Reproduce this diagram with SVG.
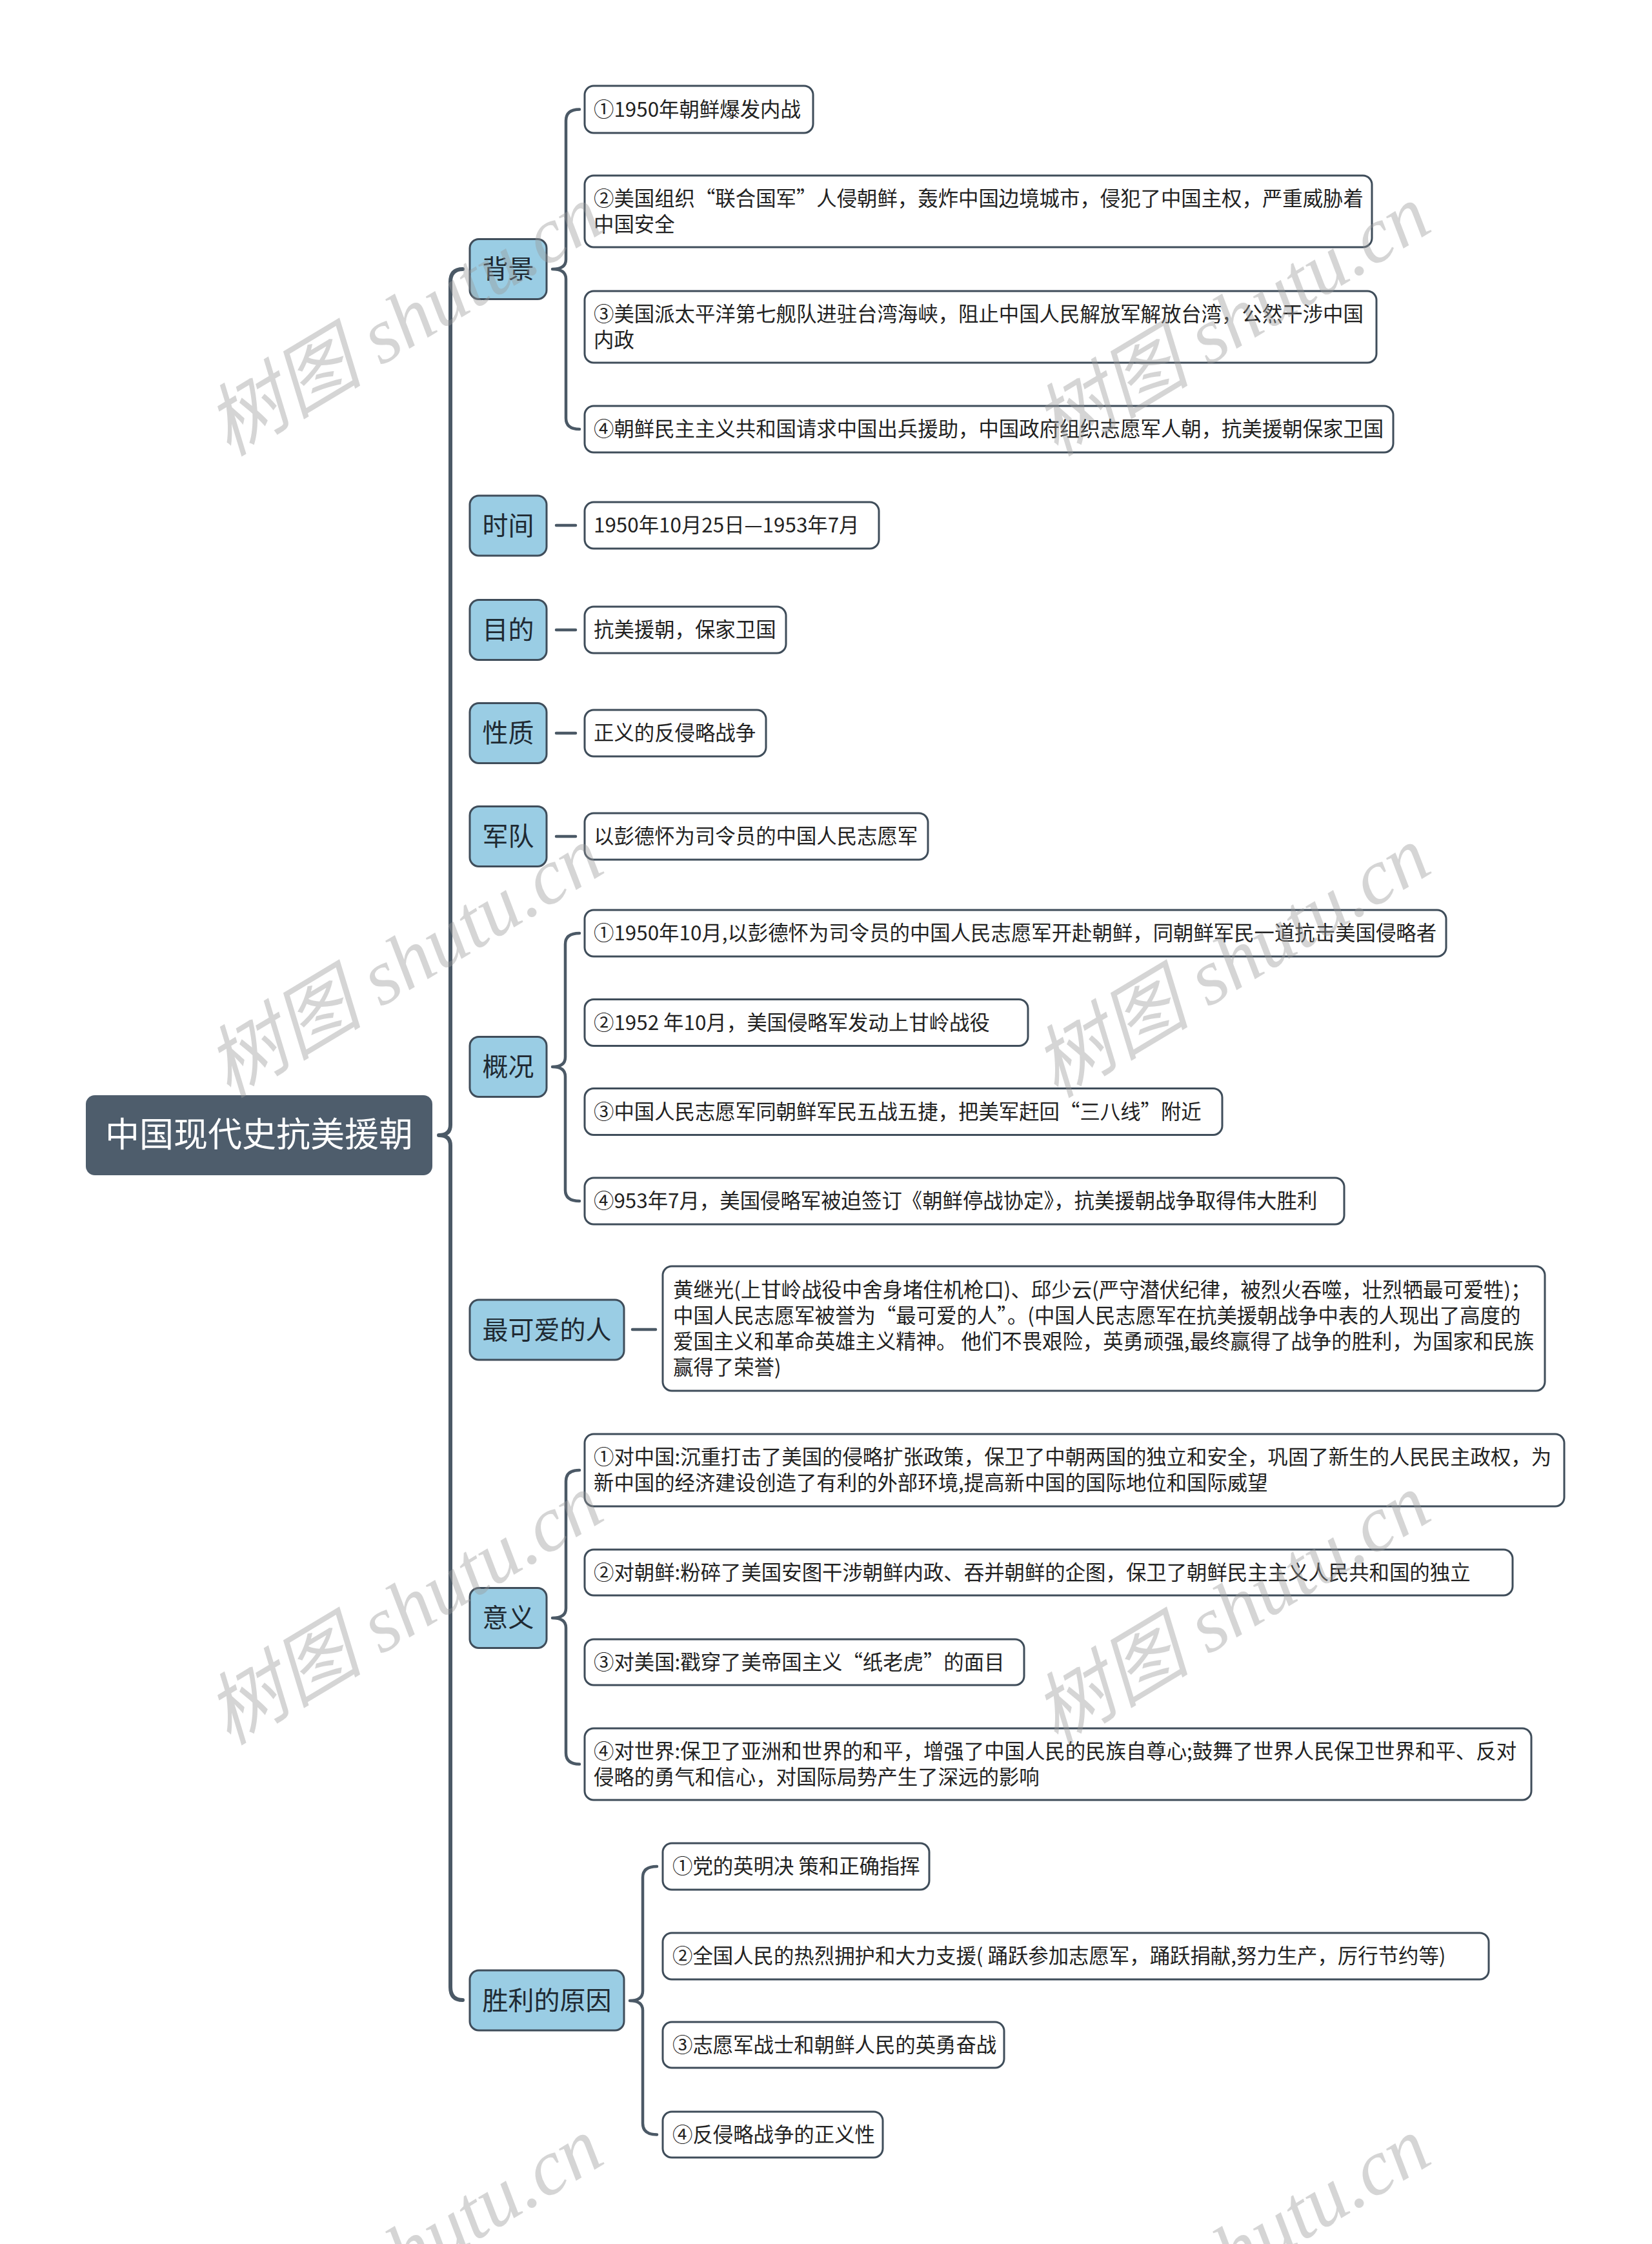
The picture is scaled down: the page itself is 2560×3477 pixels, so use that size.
<svg xmlns="http://www.w3.org/2000/svg" width="2560" height="3477" viewBox="0 0 2560 3477">
<style>
text{font-family:"Noto Sans CJK SC","Noto Sans",sans-serif}
.root{fill:#4E5D6C}
.rt{font-size:53px;fill:#FFFFFF;text-anchor:middle}
.l1{fill:#9ACDE4;stroke:#3F4D5A;stroke-width:3}
.t1{font-size:40px;fill:#1F2A33;text-anchor:middle}
.leaf{fill:#FFFFFF;stroke:#3F4D5A;stroke-width:3}
.t2{font-size:31.4px;fill:#222222}
.conn path{fill:none;stroke:#4B5966;stroke-linecap:round;stroke-linejoin:round}
.wm{font-family:"Liberation Serif","Noto Sans CJK SC",serif;font-style:italic;font-size:122px;fill:#999999;opacity:0.4;text-anchor:middle}
</style>
<rect width="2560" height="3477" fill="#FFFFFF"/>
<g id="connectors" class="conn">
<path stroke-width="6" d="M717 417 Q698 417 698 437 L698 1743 Q698 1759 680 1759 Q698 1759 698 1775 L698 3079 Q698 3099 717 3099"/>
<path stroke-width="4.5" d="M898 169.5 Q877 169.5 877 187 L877 402 Q877 417 856 417 Q877 417 877 432 L877 648 Q877 665 898 665"/>
<path stroke-width="4.5" d="M898 1446 Q876 1446 876 1463 L876 1638 Q876 1653 856 1653 Q876 1653 876 1668 L876 1844 Q876 1861 898 1861"/>
<path stroke-width="4.5" d="M898 2278 Q877 2278 877 2295 L877 2492 Q877 2507 856 2507 Q877 2507 877 2522 L877 2716 Q877 2733.5 898 2733.5"/>
<path stroke-width="4.5" d="M1018 2892 Q996 2892 996 2909 L996 3085 Q996 3100 976 3100 Q996 3100 996 3115 L996 3290 Q996 3307.5 1018 3307.5"/>
<path stroke-width="4.5" d="M862 814 L892 814"/>
<path stroke-width="4.5" d="M862 976 L892 976"/>
<path stroke-width="4.5" d="M862 1136 L892 1136"/>
<path stroke-width="4.5" d="M862 1296 L892 1296"/>
<path stroke-width="4.5" d="M980 2060 L1016 2060"/>
</g>
<g id="root">
<rect class="root" x="133" y="1697" width="537" height="124" rx="14"/>
<text class="rt" x="401.5" y="1777">中国现代史抗美援朝</text>
</g>
<g id="n-beijing">
<rect class="l1" x="728" y="370.5" width="119" height="93" rx="14"/>
<text class="t1" x="787.5" y="431">背景</text>
</g>
<g id="n-beijing-1">
<rect class="leaf" x="906" y="133" width="354" height="73" rx="14"/>
<text class="t2" x="920" y="180.5">①1950年朝鲜爆发内战</text>
</g>
<g id="n-beijing-2">
<rect class="leaf" x="906" y="272" width="1220" height="111" rx="14"/>
<text class="t2" x="920" y="318.5">②美国组织“联合国军”人侵朝鲜，轰炸中国边境城市，侵犯了中国主权，严重威胁着</text>
<text class="t2" x="920" y="358.5">中国安全</text>
</g>
<g id="n-beijing-3">
<rect class="leaf" x="906" y="451" width="1227" height="111" rx="14"/>
<text class="t2" x="920" y="497.5">③美国派太平洋第七舰队进驻台湾海峡，阻止中国人民解放军解放台湾，公然干涉中国</text>
<text class="t2" x="920" y="537.5">内政</text>
</g>
<g id="n-beijing-4">
<rect class="leaf" x="906" y="629" width="1253" height="72" rx="14"/>
<text class="t2" x="920" y="676">④朝鲜民主主义共和国请求中国出兵援助，中国政府组织志愿军人朝，抗美援朝保家卫国</text>
</g>
<g id="n-shijian">
<rect class="l1" x="728" y="768" width="119" height="93" rx="14"/>
<text class="t1" x="787.5" y="828.5">时间</text>
</g>
<g id="n-shijian-1">
<rect class="leaf" x="906" y="778" width="456" height="72" rx="14"/>
<text class="t2" x="920" y="825">1950年10月25日—1953年7月</text>
</g>
<g id="n-mudi">
<rect class="l1" x="728" y="929.5" width="119" height="93" rx="14"/>
<text class="t1" x="787.5" y="990">目的</text>
</g>
<g id="n-mudi-1">
<rect class="leaf" x="906" y="940" width="312" height="72" rx="14"/>
<text class="t2" x="920" y="987">抗美援朝，保家卫国</text>
</g>
<g id="n-xingzhi">
<rect class="l1" x="728" y="1089.5" width="119" height="93" rx="14"/>
<text class="t1" x="787.5" y="1150">性质</text>
</g>
<g id="n-xingzhi-1">
<rect class="leaf" x="906" y="1100" width="281" height="72" rx="14"/>
<text class="t2" x="920" y="1147">正义的反侵略战争</text>
</g>
<g id="n-jundui">
<rect class="l1" x="728" y="1249.5" width="119" height="93" rx="14"/>
<text class="t1" x="787.5" y="1310">军队</text>
</g>
<g id="n-jundui-1">
<rect class="leaf" x="906" y="1260" width="532" height="72" rx="14"/>
<text class="t2" x="920" y="1307">以彭德怀为司令员的中国人民志愿军</text>
</g>
<g id="n-gaikuang">
<rect class="l1" x="728" y="1606.5" width="119" height="93" rx="14"/>
<text class="t1" x="787.5" y="1667">概况</text>
</g>
<g id="n-gaikuang-1">
<rect class="leaf" x="906" y="1410" width="1335" height="72" rx="14"/>
<text class="t2" x="920" y="1457">①1950年10月,以彭德怀为司令员的中国人民志愿军开赴朝鲜，同朝鲜军民一道抗击美国侵略者</text>
</g>
<g id="n-gaikuang-2">
<rect class="leaf" x="906" y="1548.5" width="687" height="72" rx="14"/>
<text class="t2" x="920" y="1595.5">②1952 年10月，美国侵略军发动上甘岭战役</text>
</g>
<g id="n-gaikuang-3">
<rect class="leaf" x="906" y="1686.5" width="988" height="72" rx="14"/>
<text class="t2" x="920" y="1733.5">③中国人民志愿军同朝鲜军民五战五捷，把美军赶回“三八线”附近</text>
</g>
<g id="n-gaikuang-4">
<rect class="leaf" x="906" y="1825" width="1177" height="72" rx="14"/>
<text class="t2" x="920" y="1872">④953年7月，美国侵略军被迫签订《朝鲜停战协定》，抗美援朝战争取得伟大胜利</text>
</g>
<g id="n-keai">
<rect class="l1" x="728" y="2014" width="239" height="93" rx="14"/>
<text class="t1" x="847.5" y="2074.5">最可爱的人</text>
</g>
<g id="n-keai-1">
<rect class="leaf" x="1027" y="1962" width="1367" height="193" rx="14"/>
<text class="t2" x="1043" y="2009.5">黄继光(上甘岭战役中舍身堵住机枪口)、邱少云(严守潜伏纪律，被烈火吞噬，壮烈牺最可爱牲)；</text>
<text class="t2" x="1043" y="2049.5">中国人民志愿军被誉为“最可爱的人”。(中国人民志愿军在抗美援朝战争中表的人现出了高度的</text>
<text class="t2" x="1043" y="2089.5">爱国主义和革命英雄主义精神。 他们不畏艰险，英勇顽强,最终赢得了战争的胜利，为国家和民族</text>
<text class="t2" x="1043" y="2129.5">赢得了荣誉)</text>
</g>
<g id="n-yiyi">
<rect class="l1" x="728" y="2460.5" width="119" height="93" rx="14"/>
<text class="t1" x="787.5" y="2521">意义</text>
</g>
<g id="n-yiyi-1">
<rect class="leaf" x="906" y="2222" width="1518" height="112" rx="14"/>
<text class="t2" x="920" y="2269">①对中国:沉重打击了美国的侵略扩张政策，保卫了中朝两国的独立和安全，巩固了新生的人民民主政权，为</text>
<text class="t2" x="920" y="2309">新中国的经济建设创造了有利的外部环境,提高新中国的国际地位和国际威望</text>
</g>
<g id="n-yiyi-2">
<rect class="leaf" x="906" y="2401" width="1438" height="71" rx="14"/>
<text class="t2" x="920" y="2447.5">②对朝鲜:粉碎了美国安图干涉朝鲜内政、吞并朝鲜的企图，保卫了朝鲜民主主义人民共和国的独立</text>
</g>
<g id="n-yiyi-3">
<rect class="leaf" x="906" y="2540" width="681" height="71" rx="14"/>
<text class="t2" x="920" y="2586.5">③对美国:戳穿了美帝国主义“纸老虎”的面目</text>
</g>
<g id="n-yiyi-4">
<rect class="leaf" x="906" y="2678" width="1467" height="111" rx="14"/>
<text class="t2" x="920" y="2724.5">④对世界:保卫了亚洲和世界的和平，增强了中国人民的民族自尊心;鼓舞了世界人民保卫世界和平、反对</text>
<text class="t2" x="920" y="2764.5">侵略的勇气和信心，对国际局势产生了深远的影响</text>
</g>
<g id="n-shengli">
<rect class="l1" x="728" y="3053" width="239" height="93" rx="14"/>
<text class="t1" x="847.5" y="3113.5">胜利的原因</text>
</g>
<g id="n-shengli-1">
<rect class="leaf" x="1027" y="2856" width="413" height="72" rx="14"/>
<text class="t2" x="1042" y="2903">①党的英明决 策和正确指挥</text>
</g>
<g id="n-shengli-2">
<rect class="leaf" x="1027" y="2995" width="1280" height="72" rx="14"/>
<text class="t2" x="1042" y="3042">②全国人民的热烈拥护和大力支援( 踊跃参加志愿军，踊跃捐献,努力生产，厉行节约等)</text>
</g>
<g id="n-shengli-3">
<rect class="leaf" x="1027" y="3133" width="529" height="71" rx="14"/>
<text class="t2" x="1042" y="3179.5">③志愿军战士和朝鲜人民的英勇奋战</text>
</g>
<g id="n-shengli-4">
<rect class="leaf" x="1027" y="3272" width="341" height="71" rx="14"/>
<text class="t2" x="1042" y="3318.5">④反侵略战争的正义性</text>
</g>
<g id="watermarks">
<text class="wm" transform="translate(648 532) rotate(-31)">树图 shutu.cn</text>
<text class="wm" transform="translate(1930 532) rotate(-31)">树图 shutu.cn</text>
<text class="wm" transform="translate(648 1526) rotate(-31)">树图 shutu.cn</text>
<text class="wm" transform="translate(1930 1526) rotate(-31)">树图 shutu.cn</text>
<text class="wm" transform="translate(648 2529) rotate(-31)">树图 shutu.cn</text>
<text class="wm" transform="translate(1930 2529) rotate(-31)">树图 shutu.cn</text>
<text class="wm" transform="translate(648 3526) rotate(-31)">树图 shutu.cn</text>
<text class="wm" transform="translate(1930 3526) rotate(-31)">树图 shutu.cn</text>
</g>
</svg>
